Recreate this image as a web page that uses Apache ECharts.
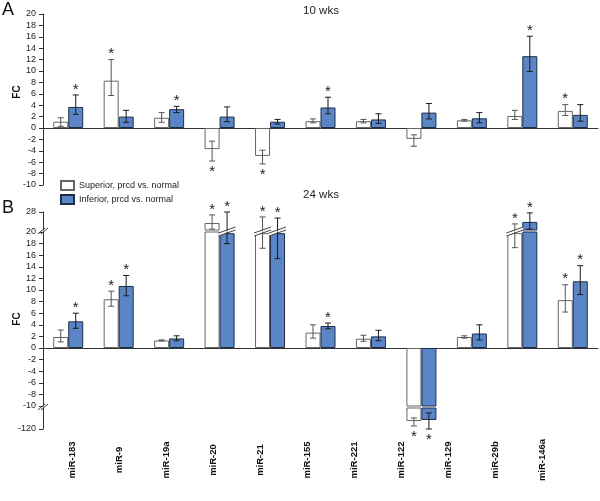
<!DOCTYPE html>
<html><head><meta charset="utf-8">
<script src="https://cdn.jsdelivr.net/npm/echarts@6/dist/echarts.min.js"></script>
<style>html,body{margin:0;padding:0;background:#fff}#c{width:600px;height:501px}</style>
</head><body><div id="c"></div>
<script>
const categories = ['miR-183','miR-9','miR-19a','miR-20','miR-21','miR-155','miR-221','miR-122','miR-129','miR-29b','miR-146a'];
const ticksA = [-10, 20, 2];
// 10 wks
const a_sup    = [1.1, 8.3, 1.8, -3.7, -4.9, 1.2, 1.2, -1.9, 1.35, 2.1, 3.0];
const a_sup_lo = [0.3, 5.7, 1.0, -5.8, -6.3, 0.9, 0.9, -3.2, 1.2, 1.5, 2.2];
const a_sup_hi = [1.8, 12.0, 2.7, -2.3, -3.9, 1.6, 1.5, -1.2, 1.5, 3.1, 4.1];
const a_sup_sig = [0,1,0,1,1,0,0,0,0,0,1];
const a_inf    = [3.7, 2.0, 3.3, 2.0, 1.1, 3.6, 1.5, 2.7, 1.7, 12.6, 2.3];
const a_inf_lo = [2.4, 1.0, 2.7, 1.1, 0.7, 2.5, 0.8, 1.6, 0.9, 9.9, 1.2];
const a_inf_hi = [5.8, 3.1, 3.8, 3.7, 1.5, 5.4, 2.5, 4.3, 2.7, 16.1, 4.1];
const a_inf_sig = [1,0,1,0,0,1,0,0,0,1,0];
// 24 wks
const b_sup    = [1.9, 8.4, 1.3, 23.1, 19.8, 2.65, 1.6, -78, 1.9, 19.8, 8.25];
const b_sup_lo = [1.05, 7.2, 1.2, 20.4, 17.2, 1.7, 1.15, -104, 1.7, 17.3, 6.2];
const b_sup_hi = [3.1, 9.8, 1.4, 26.7, 25.8, 4.0, 2.2, -62, 2.1, 22.7, 10.9];
const b_sup_sig = [0,1,0,1,1,0,0,1,0,1,1];
const b_sup_broken = [0,0,0,0,1,0,0,0,0,1,0];
const b_inf    = [4.6, 10.7, 1.65, 19.8, 19.8, 3.8, 2.0, -73, 2.5, 23.6, 11.5];
const b_inf_lo = [3.4, 9.0, 1.25, 18.0, 15.4, 3.3, 1.25, -120, 1.4, 20.4, 9.2];
const b_inf_hi = [6.0, 12.5, 2.1, 28, 25.3, 4.3, 3.05, -36, 4.0, 27.6, 14.2];
const b_inf_sig = [1,1,0,1,1,1,0,1,0,1,1];
const b_inf_broken = [0,0,0,1,1,0,0,0,0,0,0];
const segB_top = [20, 28];
const segB_mid = [-10, 20];
const segB_bot = [-120, -10];

const FONT = '"Liberation Sans", Arial, Helvetica, sans-serif';
const SUP = 'Superior, prcd vs. normal', INF = 'Inferior, prcd vs. normal';
const BW = 15;
const supStyle = {color:'#ffffff', borderColor:'#666666', borderWidth:1};
const infStyle = {color:'#5a86c8', borderColor:'#1f2d47', borderWidth:1};
const SUP_ERR = '#555555', INF_ERR = '#1a1a1a';

function errData(lo, hi, val, sig){ return categories.map((c,i)=>[i, lo[i], hi[i], val[i], sig[i]]); }
function star(x, y){
  return {type:'text', style:{text:'*', x:x, y:y, align:'center', verticalAlign:'middle', fill:'#1a1a1a', font:'15px ' + FONT}};
}
function errRender(offset, color){
  return function(params, api){
    const cs = params.coordSys;
    const i = api.value(0);
    const x = api.coord([i, 0])[0] + offset;
    const yLo = api.coord([i, api.value(1)])[1];
    const yHi = api.coord([i, api.value(2)])[1];
    const val = api.value(3), sig = api.value(4);
    const top = cs.y - 0.5, bot = cs.y + cs.height + 0.5;
    const ch = [];
    const ls = {stroke: color, lineWidth: 1};
    const y1 = Math.max(Math.min(yLo, yHi), top), y2 = Math.min(Math.max(yLo, yHi), bot);
    if (y2 >= y1) ch.push({type:'line', shape:{x1:x, y1:y1, x2:x, y2:y2}, style:ls});
    [yLo, yHi].forEach(y => { if (y >= top && y <= bot) ch.push({type:'line', shape:{x1:x-3, y1:y, x2:x+3, y2:y}, style:ls}); });
    if (sig) {
      if (val >= 0 && yHi >= top && yHi <= bot) ch.push(star(x, yHi - 5.5));
      if (val < 0 && yLo >= top && yLo <= bot) ch.push(star(x, yLo + 10.5));
    }
    return {type:'group', children:ch};
  };
}
function breakRender(params, api){
  const i = api.value(0), off = api.value(1) * BW / 2;
  const x = api.coord([i, 0])[0] + off;
  const y = params.coordSys.y;
  const h = BW / 2 + 1;
  return {type:'group', children:[
    {type:'polygon', shape:{points:[[x-h, y+1],[x+h, y-5],[x+h, y-2],[x-h, y+4]]}, style:{fill:'#fff'}},
    {type:'line', shape:{x1:x-h, y1:y+1, x2:x+h, y2:y-5}, style:{stroke:'#444', lineWidth:1}},
    {type:'line', shape:{x1:x-h, y1:y+4, x2:x+h, y2:y-2}, style:{stroke:'#444', lineWidth:1}}
  ]};
}
const brokenData = [];
categories.forEach((c,i)=>{ if (b_sup_broken[i]) brokenData.push([i,-1]); if (b_inf_broken[i]) brokenData.push([i,1]); });

const axisLine = {show:true, onZero:true, lineStyle:{color:'#333', width:1}};
function yAx(gi, min, max, interval, custom){
  const o = {type:'value', gridIndex:gi, min:min, max:max, interval:interval,
    axisLine:{show:true, lineStyle:{color:'#333', width:1}},
    axisTick:{show:true, length:4, lineStyle:{color:'#333'}},
    axisLabel:{fontSize:9, color:'#222', margin:7, fontFamily:FONT},
    splitLine:{show:false}};
  if (custom) { o.axisTick.customValues = custom; o.axisLabel.customValues = custom; }
  return o;
}
function xAx(gi, show){
  return {type:'category', gridIndex:gi, data:categories, show:show, axisLine:axisLine,
    axisTick:{show:false}, axisLabel:{show:false}, splitLine:{show:false}};
}
function panelSeries(gi, sup, inf, supLo, supHi, supSig, infLo, infHi, infSig){
  return [
    {type:'bar', name:SUP, xAxisIndex:gi, yAxisIndex:gi, data:sup, barWidth:BW, barGap:'0%', itemStyle:supStyle, clip:true, z:2},
    {type:'bar', name:INF, xAxisIndex:gi, yAxisIndex:gi, data:inf, barWidth:BW, barGap:'0%', itemStyle:infStyle, clip:true, z:2},
    {type:'custom', name:'errS'+gi, xAxisIndex:gi, yAxisIndex:gi, data:errData(supLo, supHi, sup, supSig), renderItem:errRender(-BW/2, SUP_ERR), z:4, silent:true},
    {type:'custom', name:'errI'+gi, xAxisIndex:gi, yAxisIndex:gi, data:errData(infLo, infHi, inf, infSig), renderItem:errRender(BW/2, INF_ERR), z:4, silent:true}
  ];
}
const gridBase = {left:43, right:2, outerBoundsMode:'none', containLabel:false};
const series = [].concat(
  panelSeries(0, a_sup, a_inf, a_sup_lo, a_sup_hi, a_sup_sig, a_inf_lo, a_inf_hi, a_inf_sig),
  panelSeries(1, b_sup, b_inf, b_sup_lo, b_sup_hi, b_sup_sig, b_inf_lo, b_inf_hi, b_inf_sig),
  panelSeries(2, b_sup, b_inf, b_sup_lo, b_sup_hi, b_sup_sig, b_inf_lo, b_inf_hi, b_inf_sig),
  panelSeries(3, b_sup, b_inf, b_sup_lo, b_sup_hi, b_sup_sig, b_inf_lo, b_inf_hi, b_inf_sig),
  [{type:'custom', name:'breaks', xAxisIndex:2, yAxisIndex:2, data:brokenData, renderItem:breakRender, z:3, silent:true}]
);

function slashes(x, y){
  return [
    {type:'line', shape:{x1:x-5, y1:y+3, x2:x+2, y2:y-3}, style:{stroke:'#333', lineWidth:1}},
    {type:'line', shape:{x1:x-2, y1:y+3, x2:x+5, y2:y-3}, style:{stroke:'#333', lineWidth:1}}
  ];
}

const option = {
  animation:false,
  backgroundColor:'#fff',
  textStyle:{fontFamily:FONT},
  legend:{left:60, top:180, padding:0, orient:'vertical', itemWidth:13, itemHeight:9, itemGap:3, selectedMode:false,
    icon:'rect', data:[SUP, INF], textStyle:{fontSize:9, color:'#222', fontFamily:FONT}},
  grid:[
    Object.assign({top:14, height:171}, gridBase),
    Object.assign({top:212, height:18}, gridBase),
    Object.assign({top:232, height:174}, gridBase),
    Object.assign({top:408, height:21}, gridBase),
    {left:48.5, width:517, top:430, height:6, outerBoundsMode:'none', containLabel:false}
  ],
  xAxis:[xAx(0,true), xAx(1,false), xAx(2,true), xAx(3,false),
    {type:'category', gridIndex:4, data:categories, axisLine:{show:false}, axisTick:{show:false},
      axisLabel:{show:true, interval:0, rotate:90, align:'center', verticalAlign:'middle', margin:24,
        fontSize:9.5, fontWeight:'bold', color:'#111', fontFamily:FONT}}],
  yAxis:[yAx(0, ticksA[0], ticksA[1], ticksA[2]),
    yAx(1, segB_top[0], segB_top[1], 8, [segB_top[1]]),
    yAx(2, segB_mid[0], segB_mid[1], 2),
    yAx(3, segB_bot[0], segB_bot[1], 110, [segB_bot[0]]),
    {type:'value', gridIndex:4, show:false, min:0, max:1}],
  series:series,
  graphic:[
    {type:'text', left:2, top:1, style:{text:'A', font:'18px ' + FONT, fill:'#111'}},
    {type:'text', left:2, top:199, style:{text:'B', font:'18px ' + FONT, fill:'#111'}},
    {type:'text', x:321, y:11, style:{text:'10 wks', font:'11.5px ' + FONT, fill:'#222', align:'center', verticalAlign:'middle'}},
    {type:'text', x:321, y:195, style:{text:'24 wks', font:'11.5px ' + FONT, fill:'#222', align:'center', verticalAlign:'middle'}},
    {type:'text', x:17, y:92, rotation:Math.PI/2, style:{text:'FC', font:'bold 10px ' + FONT, fill:'#111', align:'center', verticalAlign:'middle'}},
    {type:'text', x:17, y:319, rotation:Math.PI/2, style:{text:'FC', font:'bold 10px ' + FONT, fill:'#111', align:'center', verticalAlign:'middle'}},
    {type:'group', children: slashes(43, 231).concat(slashes(43, 407))}
  ]
};
const chart = echarts.init(document.getElementById('c'), null, {renderer:'canvas'});
chart.setOption(option);
</script></body></html>
